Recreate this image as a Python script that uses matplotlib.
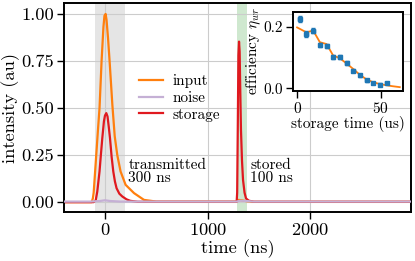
import matplotlib
matplotlib.use('Agg')
import matplotlib.pyplot as plt

# main traces (time in ns, intensity in au)
input_t = [-400, -130, -118, -110, -100, -85, -70, -53, -33, -15, -5, 6, 15, 30, 45, 72, 95, 120, 152, 201,
           283, 380, 500, 1280, 1300, 1330, 1380, 1450, 2980]
input_y = [0.0, 0.0, 0.02, 0.05, 0.13, 0.25, 0.37, 0.5, 0.75, 0.93, 0.99, 1.0, 0.97, 0.87, 0.75, 0.517, 0.35,
           0.25, 0.163, 0.092, 0.048, 0.012, 0.003, 0.003, 0.012, 0.01, 0.005, 0.002, 0.002]

storage_t = [-400, -110, -90, -75, -53, -40, -26, -10, 0, 13, 25, 37, 49, 65, 81, 97, 113, 140, 169, 210, 247,
             320, 1283, 1288, 1294, 1300, 1306, 1312, 1318, 1325, 1335, 1345, 1360, 1374, 1400, 1450, 2980]
storage_y = [0.0, 0.0, 0.01, 0.056, 0.163, 0.25, 0.34, 0.43, 0.46, 0.473, 0.455, 0.40, 0.34, 0.24, 0.163, 0.11,
             0.074, 0.045, 0.03, 0.015, 0.007, 0.002, 0.002, 0.05, 0.4, 0.78, 0.853, 0.8, 0.6, 0.384, 0.22,
             0.118, 0.05, 0.02, 0.008, 0.002, 0.002]

noise_t = [-400, -150, -50, 0, 50, 150, 1280, 1320, 1380, 1450, 2980]
noise_y = [0.003, 0.003, 0.006, 0.01, 0.006, 0.003, 0.003, 0.008, 0.006, 0.003, 0.003]

# inset: efficiency vs storage time (us)
eff_t = [1.6, 5.6, 9.6, 13.6, 17.6, 21.5, 25.5, 29.5, 33.5, 37.5, 41.5, 45.4, 49.4, 53.4]
eff_y = [0.225, 0.178, 0.188, 0.142, 0.137, 0.102, 0.102, 0.083, 0.058, 0.042, 0.026, 0.018, 0.012, 0.018]
eff_err = [0.01, 0.01, 0.008, 0.007, 0.007, 0.006, 0.006, 0.006, 0.005, 0.005, 0.004, 0.004, 0.004, 0.004]
fit_t = [0, 5.6, 9.6, 13.6, 17.6, 21.5, 25.5, 29.5, 33.5, 37.5, 41.5, 45.4, 49.4, 53.4, 57, 61.3]
fit_y = [0.198, 0.182, 0.188, 0.150, 0.144, 0.107, 0.098, 0.081, 0.063, 0.044, 0.029, 0.020, 0.014, 0.010,
         0.007, 0.004]

plt.rcParams['font.family'] = ['cmr10', 'DejaVu Serif']
plt.rcParams['mathtext.fontset'] = 'cm'
plt.rcParams['axes.formatter.use_mathtext'] = True
plt.rcParams['font.size'] = 13.3
small = 11

fig = plt.figure(figsize=(4.15, 2.61), dpi=100)
ax = fig.add_axes([0.154, 0.188, 0.836, 0.799])

ax.axvspan(-97, 195, color='#e5e5e5', lw=0)
ax.axvspan(1283, 1384, color='#cfe8cf', lw=0)
ax.plot(input_t, input_y, color='#ff7f0e', lw=1.6, label='input')
ax.plot(noise_t, noise_y, color='#c5b0d5', lw=1.6, label='noise', zorder=3)
ax.plot(storage_t, storage_y, color='#e0191f', lw=1.6, label='storage')

ax.text(227, 0.162, 'transmitted\n300 ns', va='center', ha='left', linespacing=0.98, fontsize=small)
ax.text(1413, 0.162, 'stored\n100 ns', va='center', ha='left', linespacing=0.98, fontsize=small)

ax.set_xlim(-400, 2980)
ax.set_ylim(-0.052, 1.056)
ax.set_xticks([0, 1000, 2000])
ax.set_yticks([0, 0.25, 0.5, 0.75, 1.0])
ax.set_yticklabels(['0.00', '0.25', '0.50', '0.75', '1.00'])
ax.set_xlabel('time (ns)', labelpad=1)
ax.set_ylabel('intensity (au)', labelpad=1)
ax.grid(True, color='#cccccc', lw=0.8)
for s in ax.spines.values():
    s.set_linewidth(1.4)
ax.tick_params(direction='out', length=5, width=1, pad=2)

ax.legend(loc='center left', bbox_to_anchor=(0.177, 0.547), frameon=False, fontsize=small,
          handlelength=1.57, labelspacing=0.2, handletextpad=0.65)

# inset
ins = fig.add_axes([0.705, 0.652, 0.266, 0.303])
ins.plot(fit_t, fit_y, color='#ff7f0e', lw=1.3)
ins.errorbar(eff_t, eff_y, yerr=eff_err, xerr=0.8, fmt='s', color='#1f77b4', ms=3.5,
             elinewidth=1, capsize=1.2)
ins.set_xlim(-2.7, 63.2)
ins.set_ylim(-0.008, 0.249)
ins.set_xticks([0, 50])
ins.set_yticks([0.0, 0.2])
ins.set_yticklabels(['0.0', '0.2'])
ins.set_xlabel('storage time (us)', labelpad=0, fontsize=small)
ins.set_ylabel(r'efficiency $\eta_{wr}$', labelpad=0, fontsize=small)
for s in ins.spines.values():
    s.set_linewidth(1.4)
ins.tick_params(direction='out', length=5, width=1, pad=2, labelsize=small)

fig.savefig('out.png', dpi=100)
